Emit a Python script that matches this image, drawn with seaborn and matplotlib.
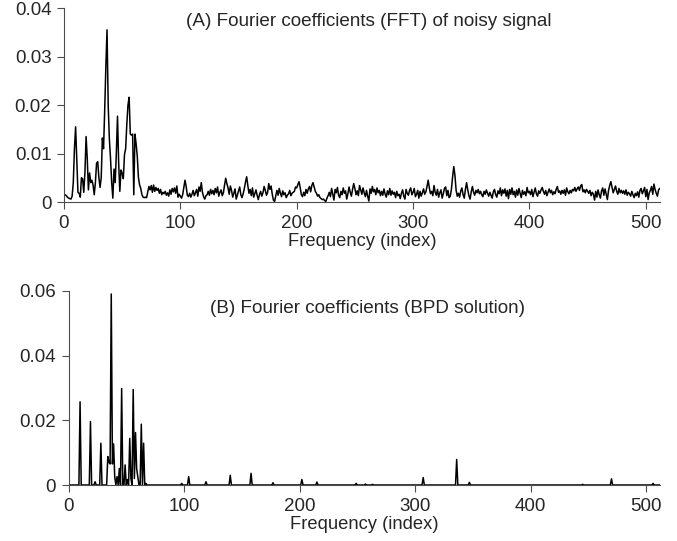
import matplotlib
matplotlib.use("Agg")
import matplotlib.pyplot as plt
import numpy as np
import pandas as pd
import seaborn as sns
from matplotlib.ticker import FuncFormatter

# Magnitude of FFT coefficients of the noisy signal (units of 1e-3), index 0..512
FFT_MAG_MILLI = [
    1.4, 1.5, 1.3, 1.0, 0.8, 0.7, 0.6, 1.2, 4.0, 11.0, 15.5, 9.0, 2.0, 1.8, 1.0, 5.0, 4.8, 2.0, 6.0, 13.5,
    9.0, 2.5, 6.0, 4.0, 4.5, 3.5, 1.5, 4.0, 8.0, 8.3, 5.0, 3.0, 5.0, 13.2, 11.0, 19.0, 28.0, 35.5, 20.0, 13.0,
    9.0, 4.0, 0.8, 6.8, 4.0, 10.0, 17.7, 8.0, 2.2, 6.6, 5.9, 4.8, 9.8, 11.0, 16.0, 20.0, 21.6, 14.0, 13.8, 14.0,
    1.5, 14.0, 12.0, 9.4, 5.0, 3.5, 2.8, 1.5, 1.0, 0.9, 1.0, 0.9, 2.0, 3.2, 2.5, 3.4, 2.0, 3.5, 2.2, 3.0,
    2.4, 2.8, 1.8, 2.6, 1.5, 2.0, 1.7, 2.2, 1.4, 1.9, 1.2, 2.5, 1.6, 2.8, 2.1, 2.9, 1.8, 3.3, 1.0, 1.6,
    1.2, 0.8, 1.5, 3.0, 4.5, 3.2, 1.4, 1.1, 1.8, 1.0, 1.6, 2.4, 1.3, 1.9, 2.6, 1.2, 3.1, 2.2, 4.0, 2.0,
    1.1, 0.6, 1.3, 1.5, 2.2, 1.4, 2.6, 1.7, 2.4, 1.5, 2.8, 1.9, 3.1, 1.2, 2.0, 2.5, 1.3, 1.9, 3.5, 4.9,
    3.8, 2.9, 1.6, 3.3, 2.4, 1.0, 1.8, 2.7, 0.6, 1.4, 2.3, 3.1, 1.5, 0.9, 1.7, 2.8, 4.1, 5.2, 3.4, 1.8,
    2.6, 1.3, 2.9, 1.0, 1.7, 2.5, 1.4, 0.5, 1.5, 2.2, 1.2, 1.9, 3.2, 2.4, 1.4, 2.0, 3.8, 2.6, 3.3, 1.6,
    0.4, 0.1, 1.3, 2.4, 1.4, 2.8, 1.8, 1.1, 2.3, 1.5, 1.9, 0.9, 1.4, 1.7, 2.4, 1.3, 1.8, 2.0, 2.2, 3.1,
    2.9, 3.6, 4.2, 3.0, 1.5, 1.1, 2.0, 1.3, 2.6, 1.8, 2.7, 3.2, 2.1, 3.4, 4.0, 3.1, 2.2, 1.8, 1.2, 1.5,
    0.9, 0.7, 0.5, 0.6, 0.3, 0.1, 0.8, 1.3, 2.0, 1.1, 2.8, 1.6, 0.4, 2.6, 1.9, 3.0, 1.4, 0.9, 2.2, 1.5,
    2.9, 1.8, 2.3, 0.6, 1.7, 3.1, 2.0, 1.2, 2.6, 3.8, 2.8, 1.5, 2.3, 1.3, 3.4, 2.5, 1.6, 2.9, 1.9, 1.1,
    2.4, 1.2, 0.2, 2.7, 1.8, 3.2, 2.1, 2.6, 1.5, 2.9, 1.9, 2.4, 1.3, 2.2, 1.4, 2.7, 1.6, 1.0, 2.3, 1.5,
    2.8, 1.4, 2.3, 1.6, 2.0, 0.9, 2.2, 1.3, 1.6, 0.7, 1.8, 2.5, 1.2, 0.6, 2.6, 1.8, 1.4, 2.4, 2.9, 1.5,
    2.0, 2.8, 1.1, 1.6, 2.4, 0.8, 2.2, 1.2, 1.9, 2.7, 1.6, 2.1, 3.2, 4.5, 2.9, 1.7, 2.2, 1.3, 3.4, 2.0,
    1.4, 2.6, 1.0, 1.9, 2.5, 0.8, 1.7, 2.8, 3.1, 1.3, 2.4, 0.9, 1.2, 2.7, 5.2, 7.3, 5.5, 2.4, 1.2, 1.8,
    1.0, 2.3, 2.9, 1.5, 0.8, 2.6, 4.0, 2.5, 1.3, 0.6, 2.1, 3.2, 2.0, 1.4, 2.4, 1.9, 2.6, 1.7, 2.2, 1.5,
    1.1, 2.2, 1.6, 2.5, 1.8, 1.2, 2.0, 1.4, 0.8, 2.1, 2.6, 1.5, 1.0, 2.3, 1.7, 2.9, 1.3, 2.5, 1.8, 2.7,
    1.2, 2.4, 0.7, 2.6, 1.6, 2.9, 1.5, 2.2, 1.0, 2.5, 1.4, 2.8, 1.8, 0.9, 2.4, 1.6, 2.1, 1.3, 3.0, 1.9,
    2.2, 1.5, 2.6, 1.1, 2.0, 2.9, 1.7, 1.2, 2.3, 1.8, 2.5, 3.0, 2.2, 1.6, 2.4, 1.3, 2.0, 2.7, 1.9, 2.4,
    1.5, 2.1, 1.7, 2.6, 3.2, 2.0, 2.3, 1.6, 2.4, 1.8, 2.5, 1.4, 2.9, 2.1, 1.7, 2.4, 1.9, 2.6, 2.3, 3.0,
    2.2, 2.7, 3.1, 2.4, 3.3, 3.6, 2.1, 2.5, 1.9, 2.6, 2.2, 1.8, 2.4, 1.3, 2.0, 1.6, 0.4, 2.2, 1.0, 2.5,
    1.5, 0.8, 2.3, 2.9, 1.4, 2.7, 1.6, 0.5, 2.4, 3.4, 4.2, 3.1, 1.9, 2.6, 3.3, 2.2, 1.6, 2.8, 1.9, 2.4,
    1.8, 2.3, 1.6, 2.5, 1.4, 2.0, 1.7, 1.2, 2.2, 1.5, 0.9, 1.8, 1.3, 2.1, 1.0, 2.4, 2.8, 1.7, 2.3, 3.0,
    1.1, 2.6, 0.5, 1.9, 2.4, 3.2, 1.6, 3.7, 2.6, 1.8, 1.2, 2.5, 2.8,
]

# Non-zero coefficients of the BPD solution (index, magnitude)
BPD_INDEX = [10, 11, 19, 23, 28, 34, 35, 36, 37, 38, 39, 40, 42, 43, 44, 46, 47, 49, 51, 53, 54, 55, 56, 57, 58,
             59, 60, 62, 63, 64, 65, 67,
             98, 104, 119, 140, 158, 177, 202, 215, 249, 257, 263, 307, 336, 347, 445, 470, 506]
BPD_VALUE = [0.0257, 0.0, 0.0196, 0.001, 0.0129, 0.0088, 0.0070, 0.0065, 0.0590, 0.0065, 0.0127, 0.0025,
             0.0026, 0.0, 0.0051, 0.0298, 0.0, 0.0062, 0.0017, 0.0144, 0.0020, 0.0, 0.0295, 0.0020, 0.0162,
             0.0050, 0.0026, 0.0, 0.0188, 0.0, 0.0129, 0.0005,
             0.0005, 0.0026, 0.0010, 0.0030, 0.0036, 0.0007, 0.0017, 0.0009, 0.0005, 0.0003, 0.0002,
             0.0023, 0.0079, 0.0008, 0.0002, 0.0019, 0.0005]

N_FREQ = 513
FFT_TITLE = "(A) Fourier coefficients (FFT) of noisy signal"
BPD_TITLE = "(B) Fourier coefficients (BPD solution)"
X_LABEL = "Frequency (index)"

sns.set_style("ticks")
plt.rcParams["font.family"] = ["Liberation Sans", "DejaVu Sans"]
plt.rcParams["font.size"] = 13.5

fft_df = pd.DataFrame({"index": np.arange(len(FFT_MAG_MILLI)), "mag": np.array(FFT_MAG_MILLI) * 1e-3})
bpd_mag = np.zeros(N_FREQ)
bpd_mag[BPD_INDEX] = BPD_VALUE
bpd_df = pd.DataFrame({"index": np.arange(N_FREQ), "mag": bpd_mag})

fig = plt.figure(figsize=(6.77, 5.41), dpi=100)
ax_top = fig.add_axes([0.0945, 0.6266, 0.880, 0.3586])
ax_bot = fig.add_axes([0.1012, 0.1035, 0.8737, 0.359])


def _style_axis(axis, ymax, yticks, title, title_pos):
    # Minimal, left/bottom-only axes like the original figure
    axis.set_xlim(0, 512)
    axis.set_ylim(0, ymax)
    axis.set_xticks([0, 100, 200, 300, 400, 500])
    axis.set_yticks(yticks)
    axis.yaxis.set_major_formatter(FuncFormatter(lambda v, _: "0" if v == 0 else f"{v:g}"))
    axis.set_xlabel(X_LABEL, fontsize=13.2, labelpad=1)
    axis.set_ylabel("")
    axis.tick_params(axis="both", direction="out", length=5, width=0.8, color="0.3", labelsize=13.5, pad=4)
    for side in ["top", "right"]:
        axis.spines[side].set_visible(False)
    for side in ["left", "bottom"]:
        axis.spines[side].set_linewidth(0.8)
        axis.spines[side].set_color("0.3")
    axis.text(title_pos[0], title_pos[1], title, transform=axis.transAxes, ha="center", va="center", fontsize=13.6)


sns.lineplot(data=fft_df, x="index", y="mag", color="black", linewidth=1.1, ax=ax_top)
sns.lineplot(data=bpd_df, x="index", y="mag", color="black", linewidth=1.1, ax=ax_bot)

_style_axis(ax_top, 0.04, [0, 0.01, 0.02, 0.03, 0.04], FFT_TITLE, (0.512, 0.928))
_style_axis(ax_bot, 0.06, [0, 0.02, 0.04, 0.06], BPD_TITLE, (0.505, 0.911))

fig.savefig("out.png", dpi=100)
plt.close(fig)
